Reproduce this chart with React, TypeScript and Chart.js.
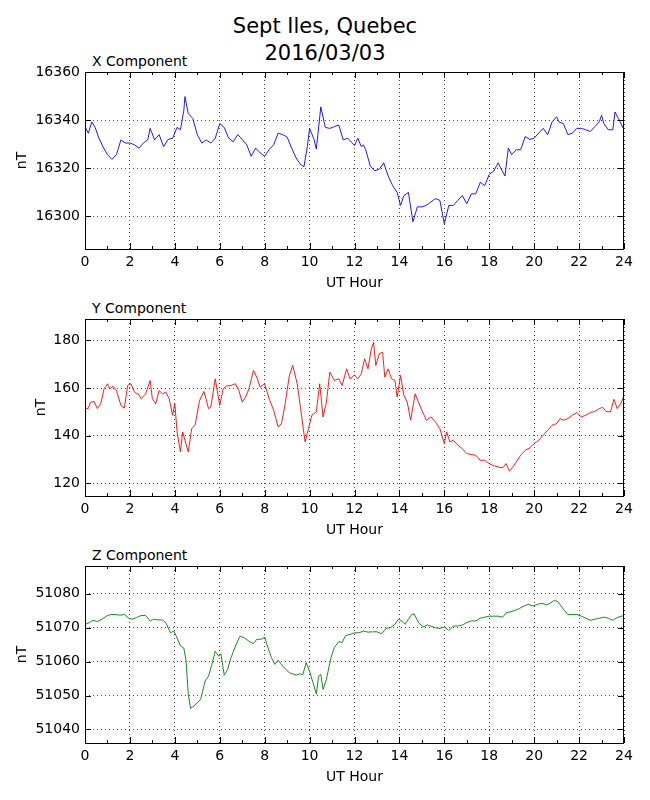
import { useEffect, useRef } from "react"
import { Chart, registerables } from "chart.js"

Chart.register(...registerables)

// hours (UT) and values, nT
const xHours = [0, 0.15, 0.3, 0.45, 0.6, 0.8, 1.0, 1.2, 1.4, 1.6, 1.8, 2.0, 2.2, 2.4, 2.6, 2.8, 2.9, 3.1, 3.3, 3.5, 3.7, 3.9, 4.1, 4.25, 4.4, 4.45, 4.6, 4.8, 5.0, 5.2, 5.4, 5.6, 5.8, 6.0, 6.2, 6.4, 6.6, 6.8, 7.0, 7.2, 7.4, 7.6, 7.8, 8.0, 8.2, 8.4, 8.6, 8.8, 9.0, 9.2, 9.4, 9.6, 9.75, 9.9, 10.0, 10.2, 10.3, 10.5, 10.7, 10.9, 11.1, 11.3, 11.5, 11.7, 11.9, 12.0, 12.15, 12.3, 12.4, 12.5, 12.7, 12.9, 13.1, 13.3, 13.5, 13.7, 13.9, 14.05, 14.2, 14.4, 14.6, 14.8, 15.0, 15.2, 15.4, 15.6, 15.8, 16.0, 16.2, 16.4, 16.6, 16.8, 17.0, 17.2, 17.4, 17.6, 17.8, 18.0, 18.2, 18.4, 18.5, 18.7, 18.85, 19.0, 19.2, 19.4, 19.6, 19.8, 20.0, 20.2, 20.4, 20.6, 20.8, 21.0, 21.1, 21.3, 21.5, 21.7, 21.9, 22.1, 22.3, 22.5, 22.7, 22.9, 23.0, 23.1, 23.3, 23.5, 23.6, 23.75, 24.0]
const xValues = [16337.3, 16334.6, 16339.3, 16337, 16333, 16329, 16325.7, 16323.7, 16325.7, 16331.8, 16330.5, 16330.5, 16329.8, 16328.4, 16330.5, 16332, 16336.6, 16331.8, 16334, 16329, 16332, 16332.5, 16337, 16336, 16344, 16349.8, 16342.7, 16340.7, 16334, 16330.5, 16331.8, 16330.5, 16332.5, 16338.6, 16337, 16332.5, 16331, 16334, 16332, 16329.8, 16325, 16328.4, 16326.4, 16325, 16327.8, 16329.8, 16334.6, 16334, 16333, 16328.4, 16324.3, 16321.6, 16320.7, 16329, 16336.6, 16332, 16328, 16345.5, 16337, 16336.6, 16337.3, 16338, 16331.8, 16332.5, 16330.5, 16329.5, 16332.5, 16329, 16329.7, 16327.7, 16321, 16319, 16319.6, 16322.3, 16316.8, 16312.8, 16310, 16304.6, 16308.7, 16310, 16297.8, 16304, 16304, 16304.6, 16306, 16307.4, 16306.7, 16297, 16304.6, 16304.6, 16306.7, 16308.7, 16305.3, 16309.4, 16309.4, 16314.2, 16312.8, 16317.5, 16318.9, 16322.3, 16320.3, 16316.8, 16328.4, 16325.7, 16327.7, 16327.7, 16333.2, 16332, 16332.5, 16334.6, 16336.6, 16334, 16339.3, 16341.4, 16339.3, 16338.6, 16334, 16334.6, 16336.6, 16336.6, 16336, 16335.3, 16337.3, 16339.3, 16342, 16338.6, 16336, 16336, 16343.4, 16340.7, 16336]

const yHours = [0, 0.15, 0.25, 0.4, 0.55, 0.7, 0.85, 1.0, 1.1, 1.25, 1.4, 1.6, 1.75, 1.9, 2.05, 2.2, 2.4, 2.5, 2.7, 2.9, 3.0, 3.15, 3.3, 3.45, 3.6, 3.75, 3.9, 4.0, 4.1, 4.25, 4.35, 4.45, 4.6, 4.75, 4.9, 5.1, 5.3, 5.5, 5.6, 5.8, 6.0, 6.15, 6.3, 6.5, 6.7, 6.85, 7.0, 7.15, 7.3, 7.5, 7.65, 7.8, 8.0, 8.2, 8.4, 8.6, 8.75, 8.9, 9.1, 9.25, 9.45, 9.6, 9.8, 9.95, 10.1, 10.3, 10.45, 10.6, 10.75, 10.9, 11.1, 11.3, 11.45, 11.65, 11.8, 12.0, 12.15, 12.3, 12.45, 12.6, 12.75, 12.85, 12.95, 13.1, 13.25, 13.35, 13.5, 13.65, 13.8, 13.9, 14.05, 14.2, 14.35, 14.5, 14.7, 14.85, 15.0, 15.2, 15.4, 15.6, 15.8, 16.0, 16.1, 16.25, 16.4, 16.6, 16.8, 17.0, 17.2, 17.4, 17.6, 17.8, 18.0, 18.2, 18.4, 18.6, 18.75, 18.9, 19.05, 19.2, 19.4, 19.6, 19.8, 20.0, 20.2, 20.4, 20.6, 20.8, 21.0, 21.15, 21.3, 21.5, 21.7, 21.9, 22.1, 22.3, 22.5, 22.7, 22.9, 23.05, 23.2, 23.4, 23.55, 23.7, 23.85, 24.0]
const yValues = [151.4, 151.5, 154.1, 154.4, 151.4, 153.4, 159.7, 161.8, 159.7, 160.8, 159, 152.7, 151.6, 161.1, 161.8, 158.3, 157.2, 155.5, 157.6, 163.2, 155.5, 153.4, 159, 157.6, 158.3, 155.5, 148.6, 153.4, 141.6, 133.2, 141.6, 138.1, 133.2, 143, 144.4, 154.8, 158.6, 151.4, 152, 163.9, 152.7, 159.7, 160.8, 161.1, 161.8, 159, 154.1, 156.2, 159.7, 167.4, 164.6, 160.4, 161.8, 155.5, 150.7, 143.7, 145.1, 152.7, 165.3, 169.5, 161.8, 151.4, 137.4, 143, 148.6, 150, 161.8, 147.9, 154.1, 166.7, 163.2, 163.9, 161.1, 168.1, 163.9, 165.5, 163.9, 166, 172.3, 168.1, 176.5, 179.2, 169.5, 174.4, 175.1, 164.6, 168.1, 163.9, 163.2, 156.2, 165.3, 156.9, 154.1, 146.5, 157.6, 154.1, 150.7, 146.5, 147.9, 145.8, 143, 136.7, 141.6, 137.4, 138.1, 136, 134.6, 132.5, 132.1, 131.8, 129.7, 129.7, 128.3, 127.4, 126.9, 126.5, 128.3, 125.1, 126.9, 129, 131.8, 133.9, 134.9, 136.7, 138.1, 140.2, 142.3, 144.4, 145.1, 147.2, 146.5, 147.2, 148.6, 149.7, 147.9, 148.6, 149.7, 150.2, 151.4, 151.9, 150.2, 150, 155.3, 151.4, 153.4, 156.7]

const zHours = [0, 0.2, 0.35, 0.55, 0.75, 0.95, 1.15, 1.35, 1.55, 1.75, 1.95, 2.1, 2.3, 2.5, 2.7, 2.9, 3.05, 3.25, 3.45, 3.6, 3.8, 3.95, 4.1, 4.25, 4.4, 4.5, 4.6, 4.7, 4.85, 5.0, 5.15, 5.35, 5.5, 5.65, 5.8, 5.95, 6.05, 6.2, 6.35, 6.5, 6.7, 6.9, 7.1, 7.3, 7.5, 7.65, 7.85, 8.0, 8.15, 8.3, 8.45, 8.6, 8.8, 8.95, 9.1, 9.25, 9.4, 9.55, 9.7, 9.85, 10.0, 10.15, 10.3, 10.4, 10.5, 10.6, 10.75, 10.95, 11.1, 11.3, 11.45, 11.6, 11.8, 12.0, 12.2, 12.4, 12.6, 12.8, 13.0, 13.2, 13.4, 13.6, 13.8, 13.95, 14.1, 14.25, 14.4, 14.55, 14.65, 14.85, 15.05, 15.25, 15.4, 15.6, 15.8, 16.0, 16.2, 16.4, 16.6, 16.8, 17.0, 17.2, 17.4, 17.6, 17.8, 18.0, 18.2, 18.4, 18.6, 18.75, 18.95, 19.15, 19.35, 19.55, 19.75, 19.95, 20.15, 20.35, 20.55, 20.75, 20.9, 21.05, 21.2, 21.35, 21.5, 21.7, 21.9, 22.1, 22.3, 22.5, 22.7, 22.9, 23.1, 23.3, 23.5, 23.7, 23.9, 24.0]
const zValues = [51071, 51071.5, 51072.2, 51071.8, 51072.5, 51073.4, 51073.9, 51073.9, 51073.7, 51073.9, 51072.8, 51072.5, 51073, 51073.6, 51073.6, 51072, 51072.5, 51072.3, 51072.3, 51071.5, 51068.5, 51069, 51067, 51064.6, 51064, 51060.2, 51050.3, 51046.2, 51046.9, 51047.9, 51048.9, 51054.3, 51055.7, 51059.2, 51063.1, 51061.6, 51062.3, 51056, 51057.7, 51061.1, 51064.6, 51067.5, 51067, 51066, 51065.3, 51066.6, 51066.6, 51067.2, 51064.1, 51061.2, 51059.2, 51060.4, 51058.7, 51057.7, 51056.7, 51056.4, 51056, 51056.4, 51056.2, 51059.7, 51057.2, 51053.8, 51050.5, 51055.7, 51056.2, 51051.8, 51054.8, 51061.1, 51064.1, 51065.9, 51065.6, 51067.7, 51068, 51068.5, 51068.5, 51069, 51068.7, 51068.8, 51068.8, 51068.2, 51069.8, 51070, 51071, 51072.5, 51072, 51071, 51072.5, 51073.9, 51074.1, 51071.5, 51070.2, 51070.8, 51070.5, 51070, 51069.8, 51070.2, 51069.2, 51070.5, 51070.5, 51070.8, 51071.5, 51072, 51072, 51072.8, 51073.1, 51073.4, 51073.4, 51073.4, 51073.1, 51074.4, 51074.7, 51075.1, 51075.7, 51076.4, 51076.9, 51076.4, 51076.9, 51077.2, 51076.7, 51077.4, 51078.1, 51077.7, 51076.4, 51075.1, 51073.9, 51073.9, 51073.9, 51073.4, 51072.8, 51072.2, 51072.5, 51072.8, 51073.1, 51072.8, 51072.2, 51073, 51073.4, 51073.6]

const minorHours = [1, 3, 5, 7, 9, 11, 13, 15, 17, 19, 21, 23]

const FONT = "'DejaVu Sans', sans-serif"
const PAD_TOP = 12

// frame + inward tick marks, matplotlib style
const frameTicks = {
  id: "frameTicks",
  afterDatasetsDraw(chart: any) {
    const { ctx, chartArea: a, scales } = chart
    const xs = scales.x
    const ys = scales.y
    ctx.save()
    ctx.strokeStyle = "#000"
    ctx.lineWidth = 1
    ctx.beginPath()
    xs.ticks.forEach((t: any) => {
      const px = Math.round(xs.getPixelForValue(t.value)) + 0.5
      ctx.moveTo(px, a.bottom)
      ctx.lineTo(px, a.bottom - 6)
      ctx.moveTo(px, a.top)
      ctx.lineTo(px, a.top + 6)
    })
    minorHours.forEach((h) => {
      const px = Math.round(xs.getPixelForValue(h)) + 0.5
      ctx.moveTo(px, a.bottom)
      ctx.lineTo(px, a.bottom - 3)
      ctx.moveTo(px, a.top)
      ctx.lineTo(px, a.top + 3)
    })
    ys.ticks.forEach((t: any) => {
      const py = Math.round(ys.getPixelForValue(t.value)) + 0.5
      ctx.moveTo(a.left, py)
      ctx.lineTo(a.left + 6, py)
      ctx.moveTo(a.right, py)
      ctx.lineTo(a.right - 6, py)
    })
    ctx.stroke()
    ctx.strokeRect(a.left + 0.5, a.top + 0.5, a.right - a.left - 1, a.bottom - a.top)
    ctx.restore()
  },
}

type PanelProps = {
  top: number
  title: string
  hours: number[]
  values: number[]
  color: string
  min: number
  max: number
  step: number
  labelPad: number
}

function Panel({ top, title, hours, values, color, min, max, step, labelPad }: PanelProps) {
  const chartRef = useRef<HTMLCanvasElement>(null)
  const chartInstance = useRef<Chart | null>(null)

  useEffect(() => {
    if (!chartRef.current) return
    if (chartInstance.current) chartInstance.current.destroy()
    const ctx = chartRef.current.getContext("2d")
    if (!ctx) return

    const tickFont = { family: FONT, size: 14 }

    chartInstance.current = new Chart(ctx, {
      type: "line",
      data: {
        datasets: [
          {
            data: hours.map((h, i) => ({ x: h, y: values[i] })),
            borderColor: color,
            borderWidth: 0.9,
            pointRadius: 0,
            tension: 0,
            fill: false,
          },
        ],
      },
      options: {
        responsive: false,
        animation: false,
        layout: { padding: { top: PAD_TOP, right: 26, bottom: 0, left: 0 } },
        plugins: { legend: { display: false }, title: { display: false }, tooltip: { enabled: false } },
        scales: {
          x: {
            type: "linear",
            min: 0,
            max: 24,
            ticks: { stepSize: 2, color: "#000", font: tickFont, padding: 5, maxRotation: 0, callback: (v: any) => String(v) },
            grid: { color: "#000", lineWidth: 0.7, drawTicks: false },
            border: { display: false, dash: [1, 3] },
            title: { display: true, text: "UT Hour", color: "#000", font: tickFont, padding: { top: 0, bottom: 2 } },
            afterFit: (s: any) => {
              s.height = 45
              s.paddingLeft = 0
              s.paddingRight = 0
            },
          },
          y: {
            min,
            max,
            ticks: { stepSize: step, includeBounds: false, color: "#000", font: tickFont, padding: 5, callback: (v: any) => String(v) },
            grid: { color: "#000", lineWidth: 0.7, drawTicks: false },
            border: { display: false, dash: [1, 3] },
            title: { display: true, text: "nT", color: "#000", font: tickFont, padding: { top: labelPad, bottom: 0 } },
            afterFit: (s: any) => {
              s.width = 85
              s.paddingTop = 0
              s.paddingBottom = 0
            },
          },
        },
      },
      plugins: [frameTicks],
    })

    return () => {
      if (chartInstance.current) chartInstance.current.destroy()
    }
  }, [])

  return (
    <>
      <div style={{ position: "absolute", left: 92, top: top - 18, fontSize: 14, lineHeight: "14px", whiteSpace: "nowrap" }}>
        {title}
      </div>
      <canvas ref={chartRef} width={650} height={177 + PAD_TOP + 45} style={{ position: "absolute", left: 0, top: top - PAD_TOP }} />
    </>
  )
}

export default function App() {
  return (
    <div
      style={{
        position: "absolute",
        left: 0,
        top: 0,
        width: 650,
        height: 800,
        background: "#fff",
        fontFamily: FONT,
        color: "#000",
      }}
    >
      <div style={{ position: "absolute", left: 0, width: 650, top: 16, textAlign: "center", fontSize: 21, lineHeight: "21px" }}>
        Sept Iles, Quebec
      </div>
      <div style={{ position: "absolute", left: 0, width: 650, top: 43, textAlign: "center", fontSize: 21, lineHeight: "21px" }}>
        2016/03/03
      </div>
      <Panel top={72} title="X Component" hours={xHours} values={xValues} color="#0000ff" min={16286.5} max={16360} step={20} labelPad={14} />
      <Panel top={319} title="Y Component" hours={yHours} values={yValues} color="#ff0000" min={114.7} max={189} step={20} labelPad={33} />
      <Panel top={566} title="Z Component" hours={zHours} values={zValues} color="#008000" min={51036} max={51088.2} step={10} labelPad={14} />
    </div>
  )
}
